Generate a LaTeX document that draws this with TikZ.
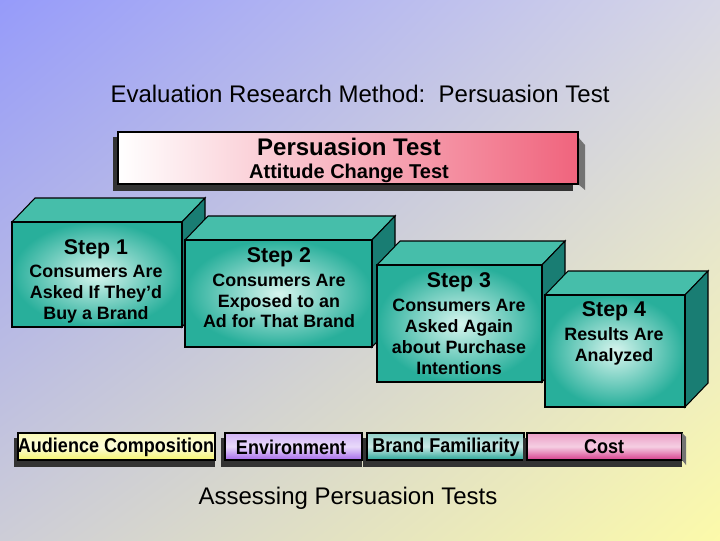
\documentclass[tikz,border=0pt]{standalone}
\usepackage{fontspec}
\setmainfont{Liberation Sans}
\usetikzlibrary{shadings}
\definecolor{bgA}{RGB}{150,155,250}
\definecolor{bgB}{RGB}{215,215,230}
\definecolor{bgC}{RGB}{205,205,215}
\definecolor{bgD}{RGB}{252,250,170}
\definecolor{tealA}{RGB}{40,175,155}
\definecolor{tealTop}{RGB}{70,190,170}
\definecolor{tealSide}{RGB}{25,125,115}
\definecolor{tealIn}{RGB}{215,245,238}
\definecolor{bpinkA}{RGB}{240,100,125}
\definecolor{byel}{RGB}{245,245,110}
\definecolor{bpur}{RGB}{165,105,235}
\definecolor{bteal}{RGB}{40,165,150}
\definecolor{bpink}{RGB}{215,60,140}
\begin{document}
\begin{tikzpicture}[x=0.75pt,y=-0.75pt,
  txt/.style={font=\bfseries\fontsize{13.4}{15.6}\selectfont,align=center,text=black},
  lab/.style={font=\bfseries\fontsize{15}{17}\selectfont,xscale=0.9,text=black},
  head/.style={font=\bfseries\fontsize{16}{18}\selectfont}]
\shade[upper left=bgA,upper right=bgB,lower left=bgC,lower right=bgD] (0,0) rectangle (720,540);
\useasboundingbox (0,0) rectangle (720,540);
\node[font=\fontsize{18}{20}\selectfont] (title) at (360,94) {Evaluation Research Method:\ \ Persuasion Test};
% banner
\fill[black!80] (113,137) rectangle (573,191);
\fill[black!55] (578,137) -- (585,145) -- (585,190) -- (578,184) -- cycle;
\shade[left color=white,right color=bpinkA,draw=black,line width=1pt] (118,132) rectangle (578,184);
\node[font=\fontsize{18}{20}\selectfont\bfseries] (pt) at (349,147) {Persuasion Test};
\node[font=\fontsize{15}{17}\selectfont\bfseries] (act) at (349,173) {Attitude Change Test};
% boxes
\newcommand{\mycube}[5]{%
  \fill[tealTop,draw=black,line width=0.8pt] (#1,#2) -- (#1+23,#2-24) -- (#3+23,#2-24) -- (#3,#2) -- cycle;
  \fill[tealSide,draw=black,line width=0.8pt] (#3,#2) -- (#3+23,#2-24) -- (#3+23,#4-24) -- (#3,#4) -- cycle;
  \shade[inner color=tealIn,outer color=tealA,draw=black,line width=1pt] (#1,#2) rectangle (#3,#4);
  \coordinate (#5) at ({(#1+#3)/2},{(#2+#4)/2});}
\mycube{12}{222}{182}{327}{s1}
\mycube{185}{240}{372}{347}{s2}
\mycube{377}{265}{542}{382}{s3}
\mycube{545}{295}{685}{407}{s4}
\node[head] (h1) at (96,249) {Step 1};
\node[txt] (t1) at (96,294) {Consumers Are\\Asked If They’d\\Buy a Brand};
\node[head] (h2) at (279,257) {Step 2};
\node[txt] (t2) at (279,301) {Consumers Are\\Exposed to an\\Ad for That Brand};
\node[head] (h3) at (459,282) {Step 3};
\node[txt] (t3) at (459,337) {Consumers Are\\Asked Again\\about Purchase\\Intentions};
\node[head] (h4) at (614,311) {Step 4};
\node[txt] (t4) at (614,346) {Results Are\\Analyzed};
% bottom bars
\newcommand{\mybar}[4]{%
  \fill[black!80] (#1-4,438) rectangle (#2,467);
  \shade[top color=#3!50,bottom color=#3,middle color=#3!25,draw=black,line width=0.8pt] (#1,433) rectangle (#2,460);
  \coordinate (#4) at ({(#1+#2)/2},447);}
\mybar{18}{215}{byel}{b1}
\mybar{225}{362}{bpur}{b2}
\mybar{367}{524}{bteal}{b3}
\mybar{527}{682}{bpink}{b4}
\fill[black!55] (682,433) -- (686,437) -- (686,465) -- (682,460) -- cycle;
\node[lab] (l1) at (116,447) {Audience Composition};
\node[lab] (l2) at (291,447) {Environment};
\node[lab] (l3) at (446,447) {Brand Familiarity};
\node[lab] (l4) at (604,447) {Cost};
\node[font=\fontsize{18}{20}\selectfont] (foot) at (348,498) {Assessing Persuasion Tests};
\end{tikzpicture}
\end{document}
